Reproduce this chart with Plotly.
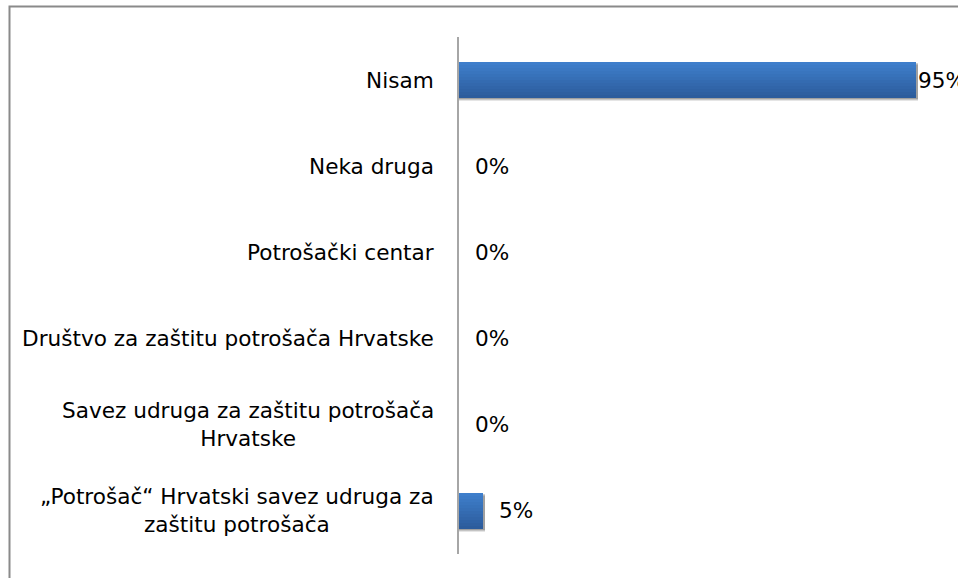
import plotly.graph_objects as go

categories = [
    "Nisam",
    "Neka druga",
    "Potrošački centar",
    "Društvo za zaštitu potrošača Hrvatske",
    "Savez udruga za zaštitu potrošača<br>Hrvatske",
    "„Potrošač“ Hrvatski savez udruga za<br>zaštitu potrošača",
]
values = [95, 0, 0, 0, 0, 5]
value_labels = ["95%", "0%", "0%", "0%", "0%", "5%"]

W, H = 958, 578
ML, MR, MT, MB = 459, 18, 37, 24
FONT = "DejaVu Sans"
FS = 21.6

fig = go.Figure()
ypos = list(range(len(categories)))
bw = 0.42

# shadow
for k, (dx, alpha) in enumerate([(0.035, 0.10), (0.025, 0.14), (0.015, 0.18)]):
    fig.add_trace(go.Bar(
        y=ypos, x=[v + 0.35 if v > 0 else 0 for v in values], orientation="h",
        width=bw, offset=-bw / 2 + dx,
        marker=dict(color=f"rgba(0,0,0,{alpha})", line=dict(width=0)),
        hoverinfo="skip", showlegend=False))

# gradient strips (top to bottom)
top = (0x3E, 0x7E, 0xCB)
bot = (0x2C, 0x5C, 0x9C)
N = 12
sw = bw / N
for i in range(N):
    t = i / (N - 1)
    c = tuple(round(top[j] + (bot[j] - top[j]) * t) for j in range(3))
    fig.add_trace(go.Bar(
        y=ypos, x=values, orientation="h",
        width=sw * 1.05, offset=-bw / 2 + i * sw,
        marker=dict(color="rgb(%d,%d,%d)" % c, line=dict(width=0)),
        hoverinfo="skip", showlegend=False))

annotations = []
for i, (cat, v, lab) in enumerate(zip(categories, values, value_labels)):
    annotations.append(dict(
        x=0, y=i, xref="paper", yref="y", text=cat, showarrow=False,
        xanchor="right", yanchor="middle", align="center", xshift=-23,
        font=dict(family=FONT, size=FS, color="#000000")))
    annotations.append(dict(
        x=v, y=i, xref="x", yref="y", text=lab, showarrow=False,
        xanchor="left", yanchor="middle", xshift=14 if v < 90 else 0,
        font=dict(family=FONT, size=FS, color="#000000")))

pw = W - ML - MR
ph = H - MT - MB
shapes = [dict(
    type="rect", xref="paper", yref="paper",
    x0=(9.5 - ML) / pw, x1=1.2,
    y0=-0.2, y1=(H - MB - 6.5) / ph,
    line=dict(color="#8a8a8a", width=2), fillcolor="rgba(0,0,0,0)", layer="below")]

fig.update_layout(
    width=W, height=H,
    margin=dict(l=ML, r=MR, t=MT, b=MB),
    paper_bgcolor="white", plot_bgcolor="white",
    barmode="overlay", bargap=0,
    showlegend=False,
    annotations=annotations,
    shapes=shapes,
    xaxis=dict(range=[0, 100], showgrid=False, zeroline=False,
               showticklabels=False, showline=False, ticks=""),
    yaxis=dict(range=[len(categories) - 0.5, -0.5], showgrid=False,
               zeroline=False, showticklabels=False, ticks="",
               showline=True, linecolor="#a6a6a6", linewidth=2),
)

fig.write_html(
    "out.html",
    config={"displayModeBar": False},
    post_script="document.body.style.margin='0';document.body.style.overflow='hidden';",
)
